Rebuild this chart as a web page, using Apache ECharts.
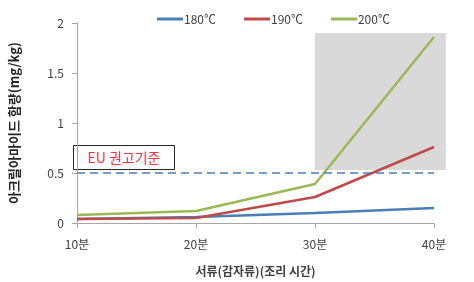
<!DOCTYPE html>
<html><head><meta charset="utf-8">
<script src="https://cdn.jsdelivr.net/npm/echarts@6/dist/echarts.min.js"></script>
<style>html,body{margin:0;padding:0;background:#fff}#c{width:474px;height:282px}</style>
</head><body><div id="c"></div>
<script>
const times = [10, 20, 30, 40];
const seriesNames = ['180℃', '190℃', '200℃'];
const s180 = [0.04, 0.06, 0.10, 0.15];
const s190 = [0.04, 0.05, 0.26, 0.76];
const s200 = [0.08, 0.12, 0.39, 1.86];
const yTicks = [0, 0.5, 1, 1.5, 2];
const euLimit = 0.5;
const euLabel = 'EU 권고기준';
const highlight = [[30, 0.53], [41, 1.9]];

const font = 'Noto Sans CJK KR';
const colors = ['#4a7ebb', '#be4b48', '#98b954'];
const pair = arr => arr.map((v, i) => [times[i], v]);

const chart = echarts.init(document.getElementById('c'));
chart.setOption({
  animation: false,
  textStyle: { fontFamily: font },
  legend: {
    top: 8, left: 152, itemGap: 28, itemWidth: 26, itemHeight: 3,
    icon: 'rect',
    textStyle: { fontSize: 12, color: '#404040', fontFamily: font, padding: [0, 0, 0, -4] },
    data: seriesNames
  },
  grid: { left: 70, right: 40, top: 23, bottom: 58 },
  xAxis: {
    type: 'value', min: 10, max: 40, interval: 10,
    name: '서류(감자류)(조리 시간)', nameLocation: 'middle', nameGap: 42,
    nameTextStyle: { fontSize: 12, fontWeight: 'bold', color: '#404040', fontFamily: font },
    axisLine: { lineStyle: { color: '#a6a6a6', width: 1 } },
    axisTick: { show: true, length: 5, lineStyle: { color: '#a6a6a6' } },
    axisLabel: { fontSize: 12, color: '#404040', margin: 15, formatter: v => v + '분' },
    splitLine: { show: false }
  },
  yAxis: {
    type: 'value', min: 0, max: 2, interval: 0.5,
    name: '아크릴아마이드 함량(mg/kg)', nameLocation: 'middle', nameGap: 56,
    nameTextStyle: { fontSize: 13, fontWeight: 'bold', color: '#262626', fontFamily: font },
    axisLine: { show: true, lineStyle: { color: '#a6a6a6', width: 1 } },
    axisTick: { show: true, length: 5, lineStyle: { color: '#a6a6a6' } },
    axisLabel: { fontSize: 12, color: '#404040', margin: 13, formatter: v => yTicks.includes(v) ? String(v) : '' },
    splitLine: { show: false }
  },
  series: [
    {
      name: seriesNames[0], type: 'line', data: pair(s180), symbol: 'none',
      lineStyle: { width: 2.5, color: colors[0] }, itemStyle: { color: colors[0] }, z: 3,
      markLine: {
        silent: true, symbol: 'none', label: { show: false },
        lineStyle: { type: [8, 5], color: '#4a7ebb', width: 1.5 },
        data: [{ yAxis: euLimit }]
      }
    },
    {
      name: seriesNames[1], type: 'line', data: pair(s190), symbol: 'none',
      lineStyle: { width: 2.5, color: colors[1] }, itemStyle: { color: colors[1] }, z: 3
    },
    {
      name: seriesNames[2], type: 'line', data: pair(s200), symbol: 'none',
      lineStyle: { width: 2.5, color: colors[2] }, itemStyle: { color: colors[2] }, z: 3
    }
  ]
});

const p0 = chart.convertToPixel({ gridIndex: 0 }, highlight[0]);
const p1 = chart.convertToPixel({ gridIndex: 0 }, highlight[1]);
chart.setOption({
  graphic: [
    { type: 'rect', z: -10, silent: true,
      shape: { x: Math.min(p0[0], p1[0]), y: Math.min(p0[1], p1[1]),
               width: Math.abs(p1[0] - p0[0]), height: Math.abs(p1[1] - p0[1]) },
      style: { fill: '#d9d9d9' } },
    { type: 'group', left: 73, top: 145,
      children: [
        { type: 'rect', shape: { x: 0, y: 0, width: 101, height: 24 },
          style: { fill: '#fff', stroke: '#262626', lineWidth: 1 } },
        { type: 'text', x: 50.5, y: 12,
          style: { text: euLabel, fill: '#ff3344', fontSize: 14, fontFamily: font,
                   align: 'center', verticalAlign: 'middle' } }
      ] }
  ]
});
</script></body></html>
